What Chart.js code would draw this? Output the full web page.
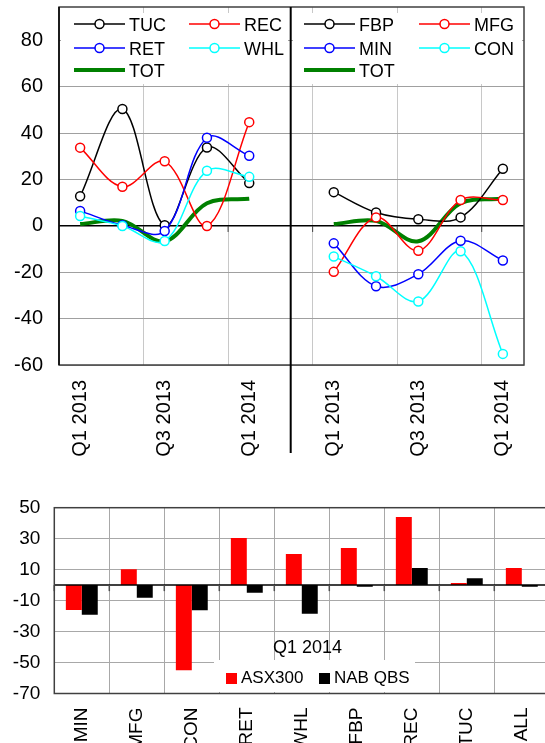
<!DOCTYPE html>
<html><head><meta charset="utf-8">
<script src="https://cdn.jsdelivr.net/npm/chart.js@4/dist/chart.umd.min.js"></script>
<style>
html,body{margin:0;padding:0;overflow:hidden;background:#fff;width:545px;height:743px;}
#top{position:absolute;left:0;top:0;}
#bot{position:absolute;left:0;top:470px;}
</style></head><body>
<canvas id="top" width="545" height="470"></canvas>
<canvas id="bot" width="560" height="300"></canvas>
<script>
// ---- data: top line panels ----
const quarters = ['Q1 2013','Q2 2013','Q3 2013','Q4 2013','Q1 2014'];
const TUC = [12.8, 50.5, 0.3, 33.9, 18.5];
const REC = [33.8, 16.9, 27.9, 0.0, 44.8];
const RET = [6.5, 0.3, -2.2, 38.1, 30.3];
const WHL = [4.3, 0.0, -6.5, 23.8, 21.2];
const TOT = [0.8, 2.2, -6.6, 9.8, 11.7];
const FBP = [14.6, 5.8, 2.9, 3.7, 24.7];
const MFG = [-19.8, 3.7, -10.7, 11.2, 11.2];
const MIN = [-7.5, -26.0, -20.8, -6.4, -14.9];
const CON = [-13.2, -21.7, -32.6, -10.9, -55.2];
const lineTicks = [-60, -40, -20, 0, 20, 40, 60, 80];

// ---- data: bottom bar chart ----
const barCats = ['MIN','MFG','CON','RET','WHL','FBP','REC','TUC','ALL'];
const ASX300 = [-16.0, 10.3, -55.0, 30.4, 20.1, 23.9, 44.0, 1.3, 11.0];
const NABQBS = [-19.2, -8.2, -16.2, -5.0, -18.5, -1.1, 11.0, 4.5, -1.1];
const barTicks = [-70, -50, -30, -10, 10, 30, 50];
const barTitle = 'Q1 2014';

const FONT = "'Liberation Sans', Arial, sans-serif";

// combined category axis: left panel, empty gap, right panel
const lineLabels = [...quarters, '', ...quarters];
const gap = new Array(quarters.length + 1).fill(null);
const leftData = v => [...v, ...gap];
const rightData = v => [...gap, ...v];

function lineDs(label, values, color, panel, order, isTot) {
  return {
    label, panel, order,
    data: panel === 'L' ? leftData(values) : rightData(values),
    borderColor: color,
    backgroundColor: color,
    borderWidth: isTot ? 4 : 1.5,
    pointRadius: isTot ? 0 : 4.5,
    pointBorderWidth: 1.5,
    pointBackgroundColor: '#fff',
    pointBorderColor: color,
    tension: 0.35,
    fill: false
  };
}

const topDatasets = [
  lineDs('TUC', TUC, '#000000', 'L', 4),
  lineDs('REC', REC, '#ff0000', 'L', 3),
  lineDs('RET', RET, '#0000ff', 'L', 2),
  lineDs('WHL', WHL, '#00ffff', 'L', 1),
  lineDs('TOT', TOT, '#008000', 'L', 10, true),
  lineDs('FBP', FBP, '#000000', 'R', 4),
  lineDs('MFG', MFG, '#ff0000', 'R', 3),
  lineDs('MIN', MIN, '#0000ff', 'R', 2),
  lineDs('CON', CON, '#00ffff', 'R', 1),
  lineDs('TOT', TOT, '#008000', 'R', 10, true)
];

const legendPos = {
  L: {box: [61, 13, 227, 71], cols: [74, 189], rows: [24, 48, 70]},
  R: {box: [293, 13, 229, 71], cols: [304, 419], rows: [24, 48, 70]}
};

const topDecor = {
  id: 'topDecor',
  beforeDatasetsDraw(chart) {
    const ctx = chart.ctx;
    ctx.save();
    ['L', 'R'].forEach(p => {
      const lp = legendPos[p];
      ctx.fillStyle = '#fff';
      ctx.fillRect(lp.box[0], lp.box[1], lp.box[2], lp.box[3]);
      const items = chart.data.datasets.filter(d => d.panel === p);
      items.forEach((d, i) => {
        const x0 = lp.cols[i % 2], y0 = lp.rows[Math.floor(i / 2)];
        ctx.strokeStyle = d.borderColor;
        ctx.lineWidth = d.borderWidth === 4 ? 4 : 1.5;
        ctx.beginPath(); ctx.moveTo(x0, y0); ctx.lineTo(x0 + 51, y0); ctx.stroke();
        if (d.pointRadius > 0) {
          ctx.beginPath(); ctx.arc(x0 + 25.5, y0, 4.5, 0, Math.PI * 2);
          ctx.fillStyle = '#fff'; ctx.fill();
          ctx.lineWidth = 1.5; ctx.stroke();
        }
        ctx.fillStyle = '#000';
        ctx.font = '18px ' + FONT;
        ctx.textBaseline = 'alphabetic';
        ctx.textAlign = 'left';
        ctx.fillText(d.label, x0 + 55, y0 + 6.5);
      });
    });
    ctx.restore();
  },
  afterDatasetsDraw(chart) {
    const {ctx, chartArea: a, scales: {x, y}} = chart;
    ctx.save();
    const y0 = y.getPixelForValue(0);
    ctx.strokeStyle = '#404040'; ctx.lineWidth = 1;
    [1, 3, 5, 7, 9].forEach(i => {
      const px = (x.getPixelForValue(i) + x.getPixelForValue(i + 1)) / 2;
      ctx.beginPath(); ctx.moveTo(px, y0); ctx.lineTo(px, y0 + 6); ctx.stroke();
    });
    ctx.strokeStyle = '#404040'; ctx.lineWidth = 1.5;
    ctx.strokeRect(a.left, a.top, a.width, a.height);
    ctx.strokeStyle = '#000';
    ctx.beginPath(); ctx.moveTo(a.left, a.top); ctx.lineTo(a.left, a.bottom); ctx.stroke();
    const dx = x.getPixelForValue(5) - 0.8;
    ctx.lineWidth = 2;
    ctx.beginPath(); ctx.moveTo(dx, a.top); ctx.lineTo(dx, 453); ctx.stroke();
    ctx.restore();
  }
};

new Chart(document.getElementById('top'), {
  type: 'line',
  data: {labels: lineLabels, datasets: topDatasets},
  options: {
    responsive: false, animation: false, devicePixelRatio: 1,
    layout: {padding: {left: 0, right: 21, top: 7, bottom: 0}},
    plugins: {legend: {display: false}, tooltip: {enabled: false}},
    scales: {
      x: {
        type: 'category', offset: true,
        grid: {
          offset: true, drawTicks: false, lineWidth: 1,
          color: c => (c.index !== undefined && c.index > 0 && c.index < 11 && c.index % 2 === 0) ? '#c8c8c8' : 'rgba(0,0,0,0)'
        },
        border: {display: false},
        ticks: {
          autoSkip: false, minRotation: 90, maxRotation: 90, padding: 15, color: '#000',
          font: {size: 20, family: FONT},
          callback: function (v, i) { return i % 2 === 0 ? this.getLabelForValue(v) : ''; }
        },
        afterFit(s) { s.height = 105; s.paddingLeft = 0; s.paddingRight = 0; }
      },
      y: {
        min: -60, max: 94.5,
        afterBuildTicks(s) { s.ticks = lineTicks.map(v => ({value: v})); },
        grid: {
          drawTicks: false,
          color: c => c.tick && c.tick.value === 0 ? '#000' : '#a0a0a0',
          lineWidth: c => c.tick && c.tick.value === 0 ? 1.5 : 1
        },
        border: {display: false},
        ticks: {padding: 16, color: '#000', font: {size: 20, family: FONT}},
        afterFit(s) { s.width = 59; s.paddingTop = 0; s.paddingBottom = 0; }
      }
    }
  },
  plugins: [topDecor]
});

// ---- bottom bar chart ----
const botDecor = {
  id: 'botDecor',
  beforeDatasetsDraw(chart) {
    const ctx = chart.ctx;
    ctx.save();
    ctx.fillStyle = '#000';
    ctx.font = '18px ' + FONT;
    ctx.textAlign = 'center'; ctx.textBaseline = 'alphabetic';
    ctx.fillText(barTitle, 307.5, 652.5 - 470);
    ctx.fillStyle = '#fff';
    ctx.fillRect(214, 660 - 470, 201, 32);
    const pos = [226, 319];
    chart.data.datasets.forEach((d, i) => {
      ctx.fillStyle = d.backgroundColor;
      ctx.fillRect(pos[i], 673 - 470, 11, 11);
      ctx.fillStyle = '#000';
      ctx.font = '17px ' + FONT;
      ctx.textAlign = 'left';
      ctx.fillText(d.label, pos[i] + 15, 683 - 470);
    });
    ctx.restore();
  },
  afterDatasetsDraw(chart) {
    const {ctx, chartArea: a, scales: {x, y}} = chart;
    ctx.save();
    const y0 = y.getPixelForValue(0);
    ctx.strokeStyle = '#000'; ctx.lineWidth = 1.5;
    ctx.beginPath(); ctx.moveTo(a.left, y0); ctx.lineTo(a.right, y0); ctx.stroke();
    ctx.strokeStyle = '#505050'; ctx.lineWidth = 1.5;
    for (let i = 0; i < barCats.length; i++) {
      const px = i === 0 ? a.left : (x.getPixelForValue(i - 1) + x.getPixelForValue(i)) / 2;
      ctx.beginPath(); ctx.moveTo(px, y0); ctx.lineTo(px, y0 + 6); ctx.stroke();
    }
    ctx.strokeStyle = '#404040'; ctx.lineWidth = 1.5;
    ctx.strokeRect(a.left, a.top, a.width, a.height);
    ctx.restore();
  }
};

new Chart(document.getElementById('bot'), {
  type: 'bar',
  data: {
    labels: barCats,
    datasets: [
      {label: 'ASX300', data: ASX300, backgroundColor: '#ff0000', borderWidth: 0, categoryPercentage: 0.58, barPercentage: 1},
      {label: 'NAB QBS', data: NABQBS, backgroundColor: '#000000', borderWidth: 0, categoryPercentage: 0.58, barPercentage: 1}
    ]
  },
  options: {
    responsive: false, animation: false, devicePixelRatio: 1,
    layout: {padding: {left: 0, right: 10.7, top: 37.7, bottom: 0}},
    plugins: {legend: {display: false}, tooltip: {enabled: false}},
    scales: {
      x: {
        grid: {offset: true, drawTicks: false, color: '#a8a8a8', lineWidth: 1},
        border: {display: false},
        ticks: {autoSkip: false, minRotation: 90, maxRotation: 90, padding: 14, color: '#000', font: {size: 19, family: FONT}},
        afterFit(s) { s.height = 76.5; s.paddingLeft = 0; s.paddingRight = 0; }
      },
      y: {
        min: -70, max: 50,
        afterBuildTicks(s) { s.ticks = barTicks.map(v => ({value: v})); },
        grid: {drawTicks: false, color: '#a8a8a8', lineWidth: 1},
        border: {display: false},
        ticks: {padding: 14, color: '#000', font: {size: 19, family: FONT}},
        afterFit(s) { s.width = 54.3; s.paddingTop = 0; s.paddingBottom = 0; }
      }
    }
  },
  plugins: [botDecor]
});
</script>
</body></html>
